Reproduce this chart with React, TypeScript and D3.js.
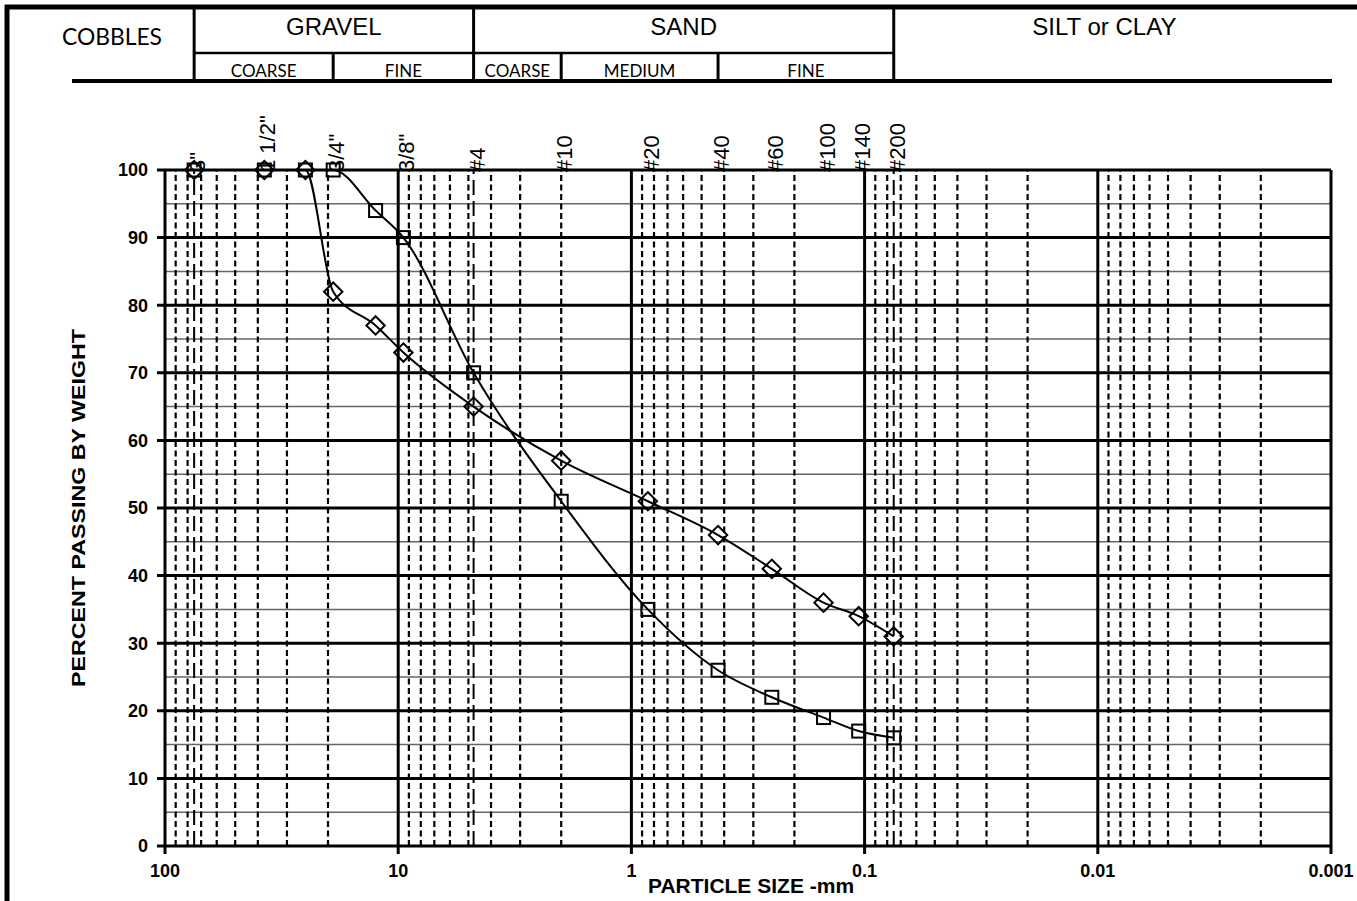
import React from 'react';
import * as d3 from 'd3';

// sieve openings (mm) used for the two grading curves
const gradSizes = [75, 37.5, 25, 19, 12.5, 9.5, 4.75, 2.0, 0.85, 0.425, 0.25, 0.15, 0.106, 0.075];
const passingSquare = [100, 100, 100, 100, 94, 90, 70, 51, 35, 26, 22, 19, 17, 16];
const passingDiamond = [100, 100, 100, 82, 77, 73, 65, 57, 51, 46, 41, 36, 34, 31];

// sieve names written above the plot
const sieveLabels = ['3"', '1 1/2"', '3/4"', '3/8"', '#4', '#10', '#20', '#40', '#60', '#100', '#140', '#200'];
const sieveSizes = [75, 37.5, 19, 9.5, 4.75, 2.0, 0.85, 0.425, 0.25, 0.15, 0.106, 0.075];

// soil class boundaries (long dashed lines)
const boundarySizes = [75, 4.75, 0.075];

const decades = [100, 10, 1, 0.1, 0.01, 0.001];
const yMajor = [0, 10, 20, 30, 40, 50, 60, 70, 80, 90, 100];
const yMinor = [5, 15, 25, 35, 45, 55, 65, 75, 85, 95];

const mainGroups = [
  { label: 'GRAVEL', from: 75, to: 4.75 },
  { label: 'SAND', from: 4.75, to: 0.075 },
];
const subGroups = [
  { label: 'COARSE', from: 75, to: 19 },
  { label: 'FINE', from: 19, to: 4.75 },
  { label: 'COARSE', from: 4.75, to: 2.0 },
  { label: 'MEDIUM', from: 2.0, to: 0.425 },
  { label: 'FINE', from: 0.425, to: 0.075 },
];

const ARIAL = '"Liberation Sans", Arial, sans-serif';
const CALIBRI = 'Lato, "Open Sans", sans-serif';

export default function App() {
  const width = 1357, height = 901;
  const x = d3.scaleLog().domain([100, 0.001]).range([165, 1331]);
  const y = d3.scaleLinear().domain([0, 100]).range([846, 170]);

  const minors: number[] = [];
  [10, 1, 0.1, 0.01, 0.001].forEach((d) => {
    for (let m = 2; m <= 9; m++) minors.push(d * m);
  });

  const line = d3.line<[number, number]>()
    .x((d) => x(d[0]))
    .y((d) => y(d[1]))
    .curve(d3.curveMonotoneX);

  const sqPts = gradSizes.map((s, i) => [s, passingSquare[i]] as [number, number]);
  const diPts = gradSizes.map((s, i) => [s, passingDiamond[i]] as [number, number]);

  const hdrTop = 7, hdrMid = 53, hdrBot = 81;

  return (
    <svg width={width} height={height} style={{ position: 'absolute', left: 0, top: 0, background: '#fff' }}>
      {/* outer frame */}
      <line x1={5} x2={width} y1={hdrTop} y2={hdrTop} stroke="#000" strokeWidth={5} />
      <line x1={7} x2={7} y1={5} y2={height} stroke="#000" strokeWidth={5} />

      {/* header table */}
      <line x1={x(75)} x2={x(0.075)} y1={hdrMid} y2={hdrMid} stroke="#000" strokeWidth={2.5} />
      <line x1={72} x2={1332} y1={hdrBot} y2={hdrBot} stroke="#000" strokeWidth={4} />
      {[75, 4.75, 0.075].map((s) => (
        <line key={'hv' + s} x1={x(s)} x2={x(s)} y1={hdrTop} y2={hdrBot} stroke="#000" strokeWidth={3} />
      ))}
      {[19, 2.0, 0.425].map((s) => (
        <line key={'hs' + s} x1={x(s)} x2={x(s)} y1={hdrMid} y2={hdrBot} stroke="#000" strokeWidth={3} />
      ))}
      <text x={112} y={45} textAnchor="middle" fontFamily={CALIBRI} fontSize={24} textLength={100} lengthAdjust="spacingAndGlyphs">COBBLES</text>
      {mainGroups.map((g) => (
        <text key={g.label} x={(x(g.from) + x(g.to)) / 2} y={35} textAnchor="middle" fontFamily={ARIAL} fontSize={24}>{g.label}</text>
      ))}
      <text x={(x(0.075) + x(0.001)) / 2 - 8} y={35} textAnchor="middle" fontFamily={ARIAL} fontSize={24}>SILT or CLAY</text>
      {subGroups.map((g, i) => (
        <text key={'sg' + i} x={(x(g.from) + x(g.to)) / 2} y={77} textAnchor="middle" fontFamily={CALIBRI} fontSize={17}>{g.label}</text>
      ))}

      {/* horizontal grid */}
      {yMinor.map((v) => (
        <line key={'ym' + v} x1={x(100)} x2={x(0.001)} y1={y(v)} y2={y(v)} stroke="#666" strokeWidth={1.5} />
      ))}
      {/* vertical grid */}
      {minors.map((s) => (
        <line key={'vm' + s} x1={x(s)} x2={x(s)} y1={y(0)} y2={y(100)} stroke="#000" strokeWidth={2.2} strokeDasharray="6 3.5" />
      ))}
      {boundarySizes.map((s) => (
        <line key={'vb' + s} x1={x(s)} x2={x(s)} y1={y(0)} y2={y(100)} stroke="#000" strokeWidth={2} strokeDasharray="15 6" />
      ))}
      {yMajor.map((v) => (
        <line key={'yM' + v} x1={x(100) - 8} x2={x(0.001)} y1={y(v)} y2={y(v)} stroke="#000" strokeWidth={3} />
      ))}
      {decades.map((s) => (
        <line key={'vd' + s} x1={x(s)} x2={x(s)} y1={y(0) + 8} y2={y(100)} stroke="#000" strokeWidth={3} />
      ))}

      {/* grading curves */}
      <path d={line(sqPts) ?? ''} fill="none" stroke="#000" strokeWidth={2} />
      <path d={line(diPts) ?? ''} fill="none" stroke="#000" strokeWidth={2} />
      {diPts.map((p, i) => (
        <rect key={'dm' + i} x={x(p[0]) - 6.5} y={y(p[1]) - 6.5} width={13} height={13}
          transform={`rotate(45 ${x(p[0])} ${y(p[1])})`} fill="none" stroke="#000" strokeWidth={2} />
      ))}
      {sqPts.map((p, i) => (
        <rect key={'sm' + i} x={x(p[0]) - 6.5} y={y(p[1]) - 6.5} width={13} height={13}
          fill="none" stroke="#000" strokeWidth={2} />
      ))}

      {/* sieve labels */}
      {sieveLabels.map((t, i) => (
        <text key={'sl' + i} transform={`translate(${x(sieveSizes[i]) + 3.5},172) rotate(-90)`}
          dominantBaseline="central" fontFamily={ARIAL} fontSize={22}>{t}</text>
      ))}

      {/* axis labels */}
      {yMajor.map((v) => (
        <text key={'yl' + v} x={148} y={y(v)} dy="0.35em" textAnchor="end" fontFamily={ARIAL} fontWeight="bold" fontSize={18}>{v}</text>
      ))}
      {decades.map((s) => (
        <text key={'xl' + s} x={x(s)} y={877} textAnchor="middle" fontFamily={ARIAL} fontWeight="bold" fontSize={18}>{String(s)}</text>
      ))}
      <text x={751} y={893} textAnchor="middle" fontFamily={ARIAL} fontWeight="bold" fontSize={21}>PARTICLE SIZE -mm</text>
      <text transform={`translate(85,${(y(0) + y(100)) / 2}) rotate(-90)`} textAnchor="middle" fontFamily={ARIAL} fontWeight="bold" fontSize={19} textLength={358} lengthAdjust="spacingAndGlyphs">PERCENT PASSING BY WEIGHT</text>
    </svg>
  );
}
